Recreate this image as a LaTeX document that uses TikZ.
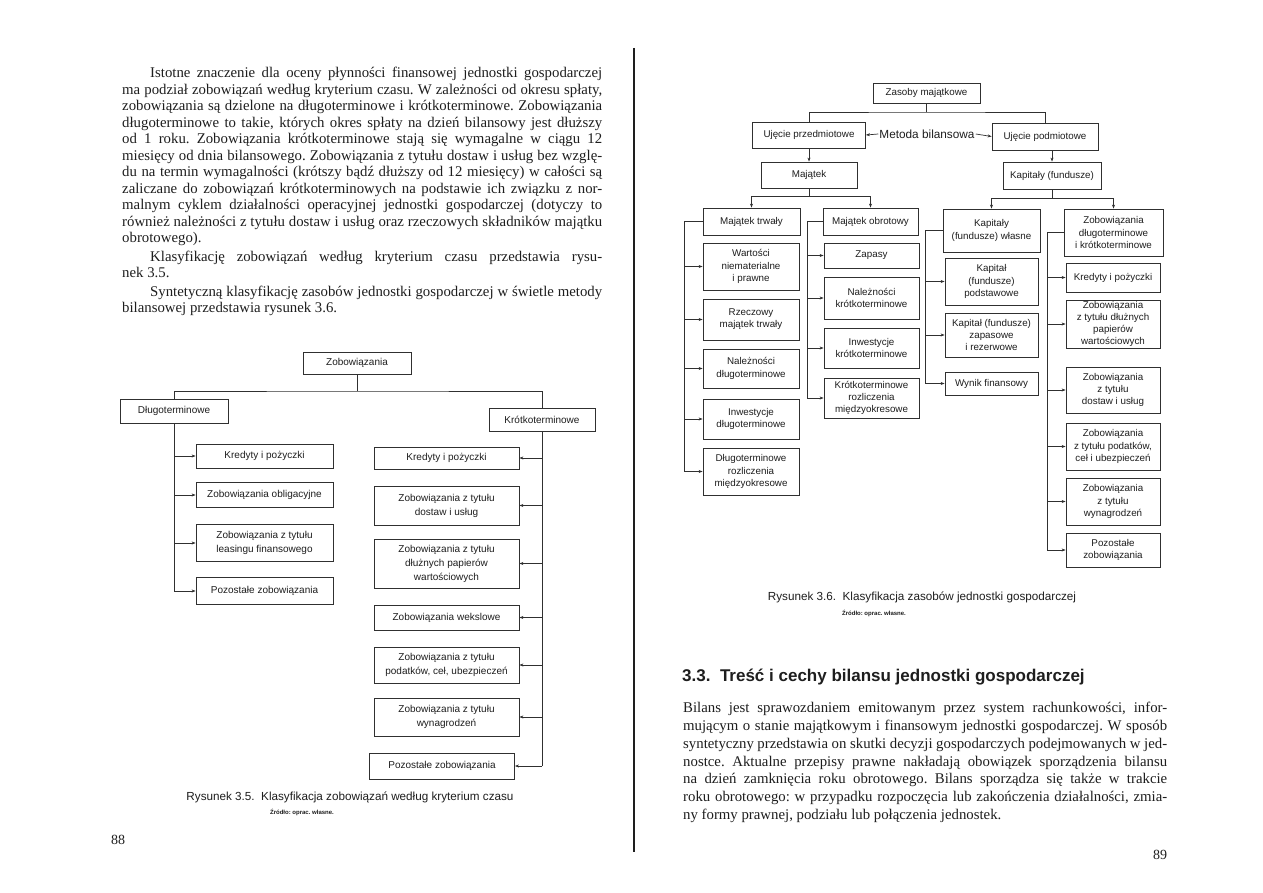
\documentclass[tikz,border=0pt]{standalone}
\usepackage{fontspec}
\setmainfont{Liberation Serif}
\setsansfont{Liberation Sans}
\usetikzlibrary{arrows.meta}
\definecolor{tusz}{HTML}{1E1E1E}
\definecolor{ramka}{HTML}{303030}
\frenchspacing

\begin{document}
\begin{tikzpicture}[x=1pt, y=-1pt,
    pole/.style={rectangle, draw=ramka, line width=0.8pt, align=center, inner sep=1pt,
                 text=tusz, font=\sffamily\fontsize{10}{14}\selectfont},
    poleR/.style={pole, font=\sffamily\fontsize{9.8}{12.2}\selectfont},
    linia/.style={line width=0.7pt, draw=ramka},
    strzalka/.style={linia, -{Stealth[length=4pt, width=3pt]}},
    akapit/.style={anchor=north west, inner sep=0pt, align=justify, text=tusz},
    podpis/.style={inner sep=0pt, text=tusz, font=\sffamily\fontsize{11.7}{14}\selectfont},
    zrodlo/.style={inner sep=0pt, text=tusz, font=\sffamily\bfseries\fontsize{6}{7}\selectfont}
  ]
  \useasboundingbox (0,0) rectangle (1263,893);
  \fill[white] (0,0) rectangle (1263,893);

  % grzbiet ksiazki
  \draw[line width=2pt, tusz] (634,48) -- (634,852);

  % ---- strona 88: tekst ----
  \node[akapit, text width=480, font=\fontsize{14.8}{16.5}\selectfont] (p1) at (122,67)
    {\hspace*{28pt}Istotne znaczenie dla oceny płynności finansowej jednostki gospodarczej\linebreak
     ma podział zobowiązań według kryterium czasu. W zależności od okresu spłaty,\linebreak
     zobowiązania są dzielone na długoterminowe i krótkoterminowe. Zobowiązania\linebreak
     długoterminowe to takie, których okres spłaty na dzień bilansowy jest dłuższy\linebreak
     od 1 roku. Zobowiązania krótkoterminowe stają się wymagalne w ciągu 12\linebreak
     miesięcy od dnia bilansowego. Zobowiązania z tytułu dostaw i usług bez wzglę-\linebreak
     du na termin wymagalności (krótszy bądź dłuższy od 12 miesięcy) w całości są\linebreak
     zaliczane do zobowiązań krótkoterminowych na podstawie ich związku z nor-\linebreak
     malnym cyklem działalności operacyjnej jednostki gospodarczej (dotyczy to\linebreak
     również należności z tytułu dostaw i usług oraz rzeczowych składników majątku\linebreak
     obrotowego).};
  \node[akapit, text width=480, font=\fontsize{14.8}{15.5}\selectfont] (p2) at (122,251)
    {\hspace*{28pt}Klasyfikację zobowiązań według kryterium czasu przedstawia rysu-\linebreak
     nek 3.5.};
  \node[akapit, text width=480, font=\fontsize{14.8}{15.5}\selectfont] (p3) at (122,286)
    {\hspace*{28pt}Syntetyczną klasyfikację zasobów jednostki gospodarczej w świetle metody\linebreak
     bilansowej przedstawia rysunek 3.6.};

  % ---- rysunek 3.5 ----
  \node[pole, minimum width=108, minimum height=22] (z0) at (357,363) {Zobowiązania};
  \node[pole, minimum width=108, minimum height=24] (dl) at (174,411) {Długoterminowe};
  \node[pole, minimum width=106, minimum height=23] (kr) at (542,420) {Krótkoterminowe};
  \coordinate (zr) at (357,391);
  \draw[linia] (z0.south) -- (zr);
  \draw[linia] (dl.north) |- (zr) -| (kr.north);

  \node[pole, minimum width=137, minimum height=24] (d1) at (264.5,456) {Kredyty i pożyczki};
  \node[pole, minimum width=137, minimum height=25] (d2) at (264.5,495) {Zobowiązania obligacyjne};
  \node[pole, minimum width=137, minimum height=37] (d3) at (264.5,543) {Zobowiązania z tytułu\\leasingu finansowego};
  \node[pole, minimum width=137, minimum height=27] (d4) at (264.5,591) {Pozostałe zobowiązania};
  \draw[linia] (dl.south) -- (dl.south |- d4.west);
  \foreach \n in {d1,d2,d3,d4} {
    \draw[strzalka] (dl.south |- \n.west) -- (\n.west);
  }

  \node[pole, minimum width=145, minimum height=22] (k1) at (446.5,458) {Kredyty i pożyczki};
  \node[pole, minimum width=145, minimum height=39] (k2) at (446.5,505.5) {Zobowiązania z tytułu\\dostaw i usług};
  \node[pole, minimum width=145, minimum height=49] (k3) at (446.5,563.5) {Zobowiązania z tytułu\\dłużnych papierów\\wartościowych};
  \node[pole, minimum width=145, minimum height=25] (k4) at (446.5,617.5) {Zobowiązania wekslowe};
  \node[pole, minimum width=145, minimum height=36] (k5) at (446.5,665) {Zobowiązania z tytułu\\podatków, ceł, ubezpieczeń};
  \node[pole, minimum width=145, minimum height=38] (k6) at (446.5,717) {Zobowiązania z tytułu\\wynagrodzeń};
  \node[pole, minimum width=145, minimum height=26] (k7) at (442,766) {Pozostałe zobowiązania};
  \draw[linia] (kr.south) -- (kr.south |- k7.east);
  \foreach \n in {k1,k2,k3,k4,k5,k6,k7} {
    \draw[strzalka] (kr.south |- \n.east) -- (\n.east);
  }

  \node[podpis] (c35) at (350,797) {Rysunek 3.5.\ \ Klasyfikacja zobowiązań według kryterium czasu};
  \node[zrodlo] (r35) at (302,812) {Źródło: oprac. własne.};
  \node[inner sep=0pt, text=tusz, font=\fontsize{14}{16}\selectfont] (n88) at (118,840) {88};

  % ---- rysunek 3.6 ----
  \node[poleR, minimum width=107, minimum height=20] (zm) at (926.5,93) {Zasoby majątkowe};
  \node[poleR, minimum width=113, minimum height=26] (up) at (809,135) {Ujęcie przedmiotowe};
  \node[poleR, minimum width=106, minimum height=27] (ud) at (1045,136.5) {Ujęcie podmiotowe};
  \node[inner sep=1pt, text=tusz, font=\sffamily\fontsize{11.8}{14}\selectfont] (mb) at (927,134) {Metoda bilansowa};
  \coordinate (zs) at (926.5,112);
  \draw[linia] (zm.south) -- (zs);
  \draw[linia] (up.north) |- (zs) -| (ud.north);
  \draw[strzalka] (mb.west) -- (up.east);
  \draw[strzalka] (mb.east) -- (ud.west);

  \node[poleR, minimum width=96, minimum height=26] (mj) at (809,175) {Majątek};
  \node[poleR, minimum width=98, minimum height=27] (kp) at (1052,175.5) {Kapitały (fundusze)};
  \draw[strzalka] (up.south) -- (mj.north);
  \draw[strzalka] (ud.south -| kp.north) -- (kp.north);

  \node[poleR, minimum width=97, minimum height=27] (mt) at (751.5,221.5) {Majątek trwały};
  \node[poleR, minimum width=95, minimum height=27] (mo) at (870.5,221.5) {Majątek obrotowy};
  \coordinate (ms) at (809,196);
  \draw[linia] (mj.south) -- (ms);
  \draw[strzalka] (ms) -| (mt.north);
  \draw[strzalka] (ms) -| (mo.north);

  \node[poleR, minimum width=97, minimum height=43] (kw) at (991.5,230.5) {Kapitały\\(fundusze) własne};
  \node[poleR, minimum width=99, minimum height=47] (zd) at (1113.5,232.5) {Zobowiązania\\długoterminowe\\i krótkoterminowe};
  \coordinate (ks) at (1052,198);
  \draw[linia] (kp.south) -- (ks);
  \draw[strzalka] (ks) -| (kw.north);
  \draw[strzalka] (ks) -| (zd.north);

  % majatek trwaly
  \node[poleR, minimum width=96, minimum height=47] (t1) at (751,266.5) {Wartości\\niematerialne\\i prawne};
  \node[poleR, minimum width=96, minimum height=41] (t2) at (751,319.5) {Rzeczowy\\majątek trwały};
  \node[poleR, minimum width=96, minimum height=39] (t3) at (751,368.5) {Należności\\długoterminowe};
  \node[poleR, minimum width=96, minimum height=40] (t4) at (751,419) {Inwestycje\\długoterminowe};
  \node[poleR, minimum width=96, minimum height=47] (t5) at (751,471.5) {Długoterminowe\\rozliczenia\\międzyokresowe};
  \coordinate (st) at (684,221.5);
  \draw[linia] (mt.west) -- (st) -- (st |- t5.west);
  \foreach \n in {t1,t2,t3,t4,t5} {
    \draw[strzalka] (st |- \n.west) -- (\n.west);
  }

  % majatek obrotowy
  \node[poleR, minimum width=95, minimum height=25] (o1) at (871.5,255.5) {Zapasy};
  \node[poleR, minimum width=95, minimum height=42] (o2) at (871.5,298) {Należności\\krótkoterminowe};
  \node[poleR, minimum width=95, minimum height=40] (o3) at (871.5,348) {Inwestycje\\krótkoterminowe};
  \node[poleR, minimum width=95, minimum height=40] (o4) at (871.5,398) {Krótkoterminowe\\rozliczenia\\międzyokresowe};
  \coordinate (so) at (807,221.5);
  \draw[linia] (mo.west) -- (so) -- (so |- o4.west);
  \foreach \n in {o1,o2,o3,o4} {
    \draw[strzalka] (so |- \n.west) -- (\n.west);
  }

  % kapitaly wlasne
  \node[poleR, minimum width=93, minimum height=47] (w1) at (991.5,281.5) {Kapitał\\(fundusze)\\podstawowe};
  \node[poleR, minimum width=93, minimum height=44] (w2) at (991.5,335) {Kapitał (fundusze)\\zapasowe\\i rezerwowe};
  \node[poleR, minimum width=93, minimum height=23] (w3) at (991.5,383.5) {Wynik finansowy};
  \coordinate (sw) at (925,230.5);
  \draw[linia] (kw.west) -- (sw) -- (sw |- w3.west);
  \foreach \n in {w1,w2,w3} {
    \draw[strzalka] (sw |- \n.west) -- (\n.west);
  }

  % zobowiazania
  \node[poleR, minimum width=94, minimum height=29] (y1) at (1113,277.5) {Kredyty i pożyczki};
  \node[poleR, minimum width=94, minimum height=48] (y2) at (1113,324) {Zobowiązania\\z tytułu dłużnych\\papierów\\wartościowych};
  \node[poleR, minimum width=94, minimum height=46] (y3) at (1113,390) {Zobowiązania\\z tytułu\\dostaw i usług};
  \node[poleR, minimum width=94, minimum height=47] (y4) at (1113,446.5) {Zobowiązania\\z tytułu podatków,\\ceł i ubezpieczeń};
  \node[poleR, minimum width=94, minimum height=47] (y5) at (1113,501.5) {Zobowiązania\\z tytułu\\wynagrodzeń};
  \node[poleR, minimum width=94, minimum height=34] (y6) at (1113,550) {Pozostałe\\zobowiązania};
  \coordinate (sy) at (1047,232.5);
  \draw[linia] (zd.west) -- (sy) -- (sy |- y6.west);
  \foreach \n in {y1,y2,y3,y4,y5,y6} {
    \draw[strzalka] (sy |- \n.west) -- (\n.west);
  }

  \node[podpis] (c36) at (922,597) {Rysunek 3.6.\ \ Klasyfikacja zasobów jednostki gospodarczej};
  \node[zrodlo] (r36) at (874,613) {Źródło: oprac. własne.};

  % ---- strona 89: tekst ----
  \node[anchor=west, inner sep=0pt, text=tusz, font=\sffamily\bfseries\fontsize{17}{20}\selectfont] (h33) at (682,677)
    {3.3.\ \ Treść i cechy bilansu jednostki gospodarczej};
  \node[akapit, text width=484, font=\fontsize{14.8}{17.8}\selectfont] (p4) at (683,702)
    {Bilans jest sprawozdaniem emitowanym przez system rachunkowości, infor-\linebreak
     mującym o stanie majątkowym i finansowym jednostki gospodarczej. W sposób\linebreak
     syntetyczny przedstawia on skutki decyzji gospodarczych podejmowanych w jed-\linebreak
     nostce. Aktualne przepisy prawne nakładają obowiązek sporządzenia bilansu\linebreak
     na dzień zamknięcia roku obrotowego. Bilans sporządza się także w trakcie\linebreak
     roku obrotowego: w przypadku rozpoczęcia lub zakończenia działalności, zmia-\linebreak
     ny formy prawnej, podziału lub połączenia jednostek.};
  \node[inner sep=0pt, text=tusz, font=\fontsize{14}{16}\selectfont] (n89) at (1160,855) {89};
\end{tikzpicture}
\end{document}
